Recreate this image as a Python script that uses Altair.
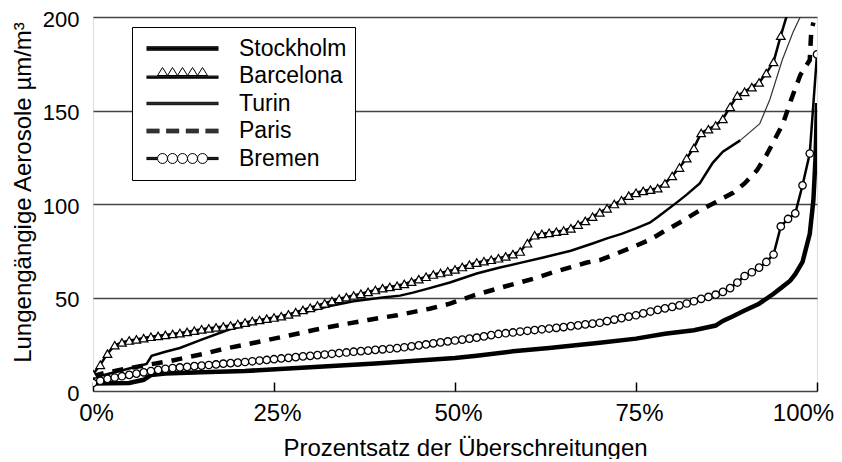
import altair as alt
import pandas as pd

series_names = ["Stockholm", "Barcelona", "Turin", "Paris", "Bremen"]

stockholm_pct = [0, 5, 7, 8, 10, 15, 21, 27, 33, 39, 44, 50, 53, 58, 63, 70, 75, 79, 83, 86,
                 87, 88.4, 90, 92, 94, 95, 96.3, 97, 98, 99, 99.5, 99.8, 100]
stockholm_val = [4, 4.3, 6, 8.5, 9.3, 10, 10.7, 12, 13.4, 14.7, 16, 17.6, 18.8, 21.2, 23, 25.8, 28, 30.6, 32.5, 35,
                 37.5, 40, 43, 46.7, 52, 55, 59, 62.5, 69, 84, 102, 125, 154]

turin_pct = [0, 3, 5, 7.4, 8.1, 10, 12, 15, 18.9, 22, 25.8, 29, 32.7, 36, 40, 42.4, 44.2, 46, 49.3, 53,
             56.2, 59, 62.2, 66, 69.1, 71, 73, 75, 76.9, 78, 80.7, 82, 83.8, 85.6, 87, 89.4, 92.1, 93.5,
             95.2, 96.7, 97.8]
turin_val = [7, 10, 12, 14.5, 18.8, 21, 23, 27.5, 33, 36, 39, 42, 45.5, 48, 50, 51, 52.6, 54.5, 58, 62.8,
             66, 68.5, 71.4, 75, 79, 81.6, 84, 87, 90, 93, 101, 105, 111, 122, 128, 134, 143, 156,
             177, 192, 201]

paris_pct = [0, 2, 5.1, 8, 10.6, 15.2, 18, 21.3, 25, 28.2, 31, 35.1, 38, 42, 46.5, 49.3, 52.5, 53.9, 57,
             60.8, 64, 68.2, 70, 72, 74.6, 77, 78.7, 81, 83.8, 86, 88.4, 90, 91.7, 93, 93.9, 95.3, 96.5,
             97.7, 99, 99.2, 99.5]
paris_val = [8, 10, 12.3, 14.3, 16, 19.8, 22.5, 25, 28, 30.6, 33, 36, 38, 40.5, 44, 46.7, 51, 52.6, 56,
             60, 64, 68.7, 70, 73, 77, 81, 85, 90, 96.6, 101, 106, 111, 118, 126, 132.6, 143, 156.6,
             169, 177, 192, 197]

barcelona_pct = [0, 1, 2, 3, 4, 5, 6, 7, 8, 9, 10, 11, 12, 13, 14, 15, 16, 17, 18, 19,
                 20, 21, 22, 23, 24, 25, 26, 27, 28, 29, 30, 31, 32, 33, 34, 35, 36, 37, 38, 39,
                 40, 41, 42, 43, 44, 45, 46, 47, 48, 49, 50, 51, 52, 53, 54, 55, 56, 57, 58, 59,
                 60, 61, 62, 63, 64, 65, 66, 67, 68, 69, 70, 71, 72, 73, 74, 75, 76, 77, 78, 79,
                 80, 81, 82, 83, 84, 85, 86, 87, 88, 89, 90, 91, 92, 93, 94, 95, 96]
barcelona_val = [9, 14, 20, 24.5, 26, 27, 27.6, 28.3, 29, 29.5, 30, 30.5, 31, 31.6, 32.3, 33, 33.5, 34, 34.5, 35,
                 35.8, 36.6, 37.4, 38, 38.7, 39.3, 40, 41, 42.2, 43.4, 44.5, 45.7, 46.9, 48.1, 49.3, 50.2, 51.1, 52, 53, 54,
                 55, 55.7, 56.3, 57.3, 58.5, 59.8, 61.1, 62.3, 63.1, 64, 65, 66.3, 67.6, 68.7, 69.4, 70.2, 71, 72, 73.2, 74.6,
                 79, 83.3, 84, 84.6, 85.2, 85.8, 87, 89, 91, 93.2, 95.5, 97.7, 100, 102, 104.5, 106, 107, 107.7, 108.5, 111,
                 115, 119.5, 124.5, 130, 138, 140, 142, 145.5, 152, 158, 160, 162.5, 165, 170, 176, 190, 203]

bremen_pct = [0, 1, 2, 3, 4, 5, 6, 7, 8, 9, 10, 11, 12, 13, 14, 15, 16, 17, 18, 19,
              20, 21, 22, 23, 24, 25, 26, 27, 28, 29, 30, 31, 32, 33, 34, 35, 36, 37, 38, 39,
              40, 41, 42, 43, 44, 45, 46, 47, 48, 49, 50, 51, 52, 53, 54, 55, 56, 57, 58, 59,
              60, 61, 62, 63, 64, 65, 66, 67, 68, 69, 70, 71, 72, 73, 74, 75, 76, 77, 78, 79,
              80, 81, 82, 83, 84, 85, 86, 87, 88, 89, 90, 91, 92, 93, 94, 95, 96, 97, 98, 99, 100]
bremen_val = [4.3, 5.5, 6.5, 7.2, 7.9, 8.6, 9.3, 10, 10.7, 11.3, 11.9, 12.3, 12.6, 12.9, 13.3, 13.6, 13.9, 14.2, 14.6, 14.9,
              15.2, 15.5, 15.9, 16.3, 16.6, 17, 17.4, 17.7, 18.1, 18.5, 18.8, 19.2, 19.5, 19.9, 20.3, 20.6, 21, 21.3, 21.6, 22,
              22.3, 22.6, 22.9, 23.4, 23.9, 24.4, 24.9, 25.5, 26, 26.5, 27, 27.5, 28, 28.5, 29.2, 29.9, 30.5, 30.9, 31.3, 31.8,
              32.2, 32.6, 33, 33.4, 33.8, 34.2, 34.7, 35.1, 35.6, 36, 36.5, 37.4, 38.2, 39, 39.8, 40.5, 41.5, 42.5, 43.4, 44.2,
              45, 45.8, 46.8, 48, 49.3, 50.3, 51.5, 53, 55, 58, 61.5, 63.5, 66, 69, 73, 88, 92, 95, 110, 127, 180]

x_ticks = [0, 25, 50, 75, 100]
y_ticks = [0, 50, 100, 150, 200]

FONT = "Liberation Sans"


def frame(pcts, vals, name):
    return pd.DataFrame({"pct": pcts, "val": vals, "series": name})


df_st = frame(stockholm_pct, stockholm_val, "Stockholm")
df_tu = frame(turin_pct, turin_val, "Turin")
df_pa = frame(paris_pct, paris_val, "Paris")
df_ba = frame(barcelona_pct, barcelona_val, "Barcelona")
df_br = frame(bremen_pct, bremen_val, "Bremen")

X = alt.X(
    "pct:Q",
    scale=alt.Scale(domain=[0, 100], nice=False, zero=False),
    axis=alt.Axis(
        values=x_ticks, labelExpr="datum.value + '%'",
        title="Prozentsatz der Überschreitungen",
        grid=False, domain=False, ticks=True, tickSize=9, tickColor="black", tickWidth=1.5,
        offset=-9, labelPadding=10, labelFontSize=24, labelFont=FONT, labelColor="black",
        labelOverlap=False, labelFlush=False, labelAlign="center",
        labelOffset={"condition": {"test": "datum.value == 100", "value": -14}, "value": 3},
        titleFontSize=24, titleFont=FONT, titleFontWeight="normal", titleColor="black",
        titleX=372, titleY=73, titleBaseline="alphabetic",
    ),
)
Y = alt.Y(
    "val:Q",
    scale=alt.Scale(domain=[0, 200], nice=False),
    axis=alt.Axis(
        values=y_ticks, title="Lungengängige Aerosole µm/m³",
        grid=True, gridColor="#444444", gridWidth=1.3, domain=False, ticks=False, tickSize=0,
        labelPadding=14, labelFontSize=22, labelFont=FONT, labelColor="black",
        labelOffset=2,
        titleFontSize=24, titleFont=FONT, titleFontWeight="normal", titleColor="black",
        titleX=-63, titleY=175, titleAngle=270, titleBaseline="alphabetic", titleAlign="center",
    ),
)

turin_lo = alt.Chart(df_tu).mark_line(color="black", strokeWidth=2.5, clip=True).encode(
    x=X, y=Y).transform_filter("datum.pct <= 90")
turin_hi = alt.Chart(df_tu).mark_line(color="#333333", strokeWidth=1.2, clip=True).encode(
    x=X, y=Y).transform_filter("datum.pct >= 89.4")
paris = alt.Chart(df_pa).mark_line(color="black", strokeWidth=4.5, strokeDash=[11, 9], clip=True).encode(x=X, y=Y)
stockholm = alt.Chart(df_st).mark_line(color="black", strokeWidth=4.5, clip=True).encode(x=X, y=Y)
bremen_line = alt.Chart(df_br).mark_line(color="black", strokeWidth=2.5, clip=True).encode(x=X, y=Y)
bremen_pts = alt.Chart(df_br).mark_point(shape="circle", size=55, filled=True, fill="white", stroke="black",
                                         strokeWidth=1.3, opacity=1, clip=True).encode(x=X, y=Y)
barcelona_line = alt.Chart(df_ba).mark_line(color="black", strokeWidth=2.5, clip=True).encode(x=X, y=Y)
barcelona_pts = alt.Chart(df_ba).mark_point(shape="triangle-up", size=75, filled=True, fill="white",
                                            stroke="black", strokeWidth=1.2, opacity=1, clip=True).encode(x=X, y=Y)


def tri(x0):
    return f"M{x0},-0.1L{x0 + 1.0:.2f},-1.7L{x0 + 2.0:.2f},-0.1Z"


def circ(cx):
    return f"M{cx - 1},0A1,1 0 1,0 {cx + 1},0A1,1 0 1,0 {cx - 1},0Z"


def band(x0, x1, ys):
    return "".join(f"M{x0},{y}H{x1}" for y in ys)


ys5 = [-0.36, -0.18, 0, 0.18, 0.36]
ys3 = [-0.24, -0.08, 0.08, 0.24]
ysb = [0, 0.15, 0.3, 0.45]
ysm = [-0.22, -0.07, 0.07, 0.22]

legend_paths = [
    band(-7.2, 7.2, ys5),
    band(-7.2, 7.2, ysb) + "".join(tri(x) for x in [-5, -3, -1, 1, 3]),
    band(-7.2, 7.2, ys3),
    "".join(band(a, b, ys5) for a, b in [(-7.2, -4.6), (-3.27, -0.67), (0.67, 3.27), (4.6, 7.2)]),
    band(-7.2, -5, ysm) + band(5, 7.2, ysm) + "".join(circ(c) for c in [-4, -2, 0, 2, 4]),
]

legend_df = pd.DataFrame({"series": series_names})
legend_layer = alt.Chart(legend_df).mark_point(opacity=0, color="black", strokeWidth=1).encode(
    shape=alt.Shape(
        "series:N", scale=alt.Scale(domain=series_names, range=legend_paths),
        legend=alt.Legend(
            title=None, orient="none", legendX=39, legendY=10, symbolSize=100, symbolOffset=31,
            labelOffset=45, labelFontSize=23, labelFont=FONT, labelColor="black",
            symbolStrokeColor="black", symbolFillColor="white", symbolOpacity=1, symbolStrokeWidth=1,
            strokeColor="black", fillColor="white", padding=8, rowPadding=0.5, clipHeight=27,
            labelLimit=300, direction="vertical",
        ),
    ),
)

chart = alt.layer(
    turin_lo, turin_hi, paris, stockholm, bremen_line, bremen_pts, barcelona_line, barcelona_pts, legend_layer
).properties(
    width=724, height=374,
    padding={"left": 85, "top": 9, "right": 17, "bottom": 68},
    autosize=alt.AutoSizeParams(type="none"),
).configure_view(stroke="black", strokeWidth=1.5).configure(font=FONT)

chart.save("out.html", embed_options={"renderer": "svg", "actions": False})
